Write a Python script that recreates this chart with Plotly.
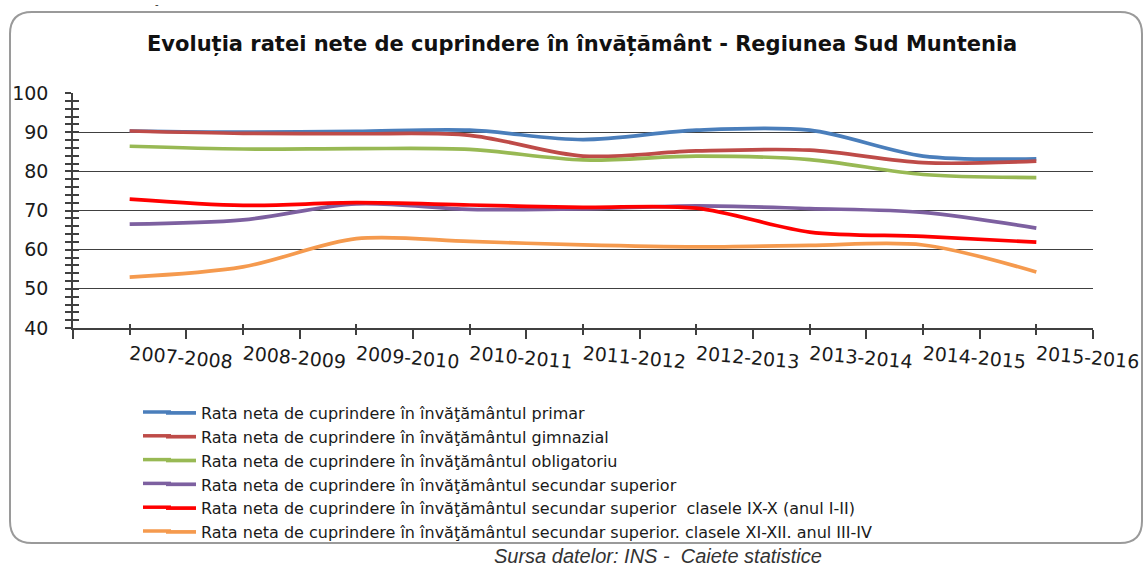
import plotly.graph_objects as go

years = ["2007-2008", "2008-2009", "2009-2010", "2010-2011", "2011-2012",
         "2012-2013", "2013-2014", "2014-2015", "2015-2016"]

primar = [90.3, 90.0, 90.2, 90.5, 88.1, 90.5, 90.5, 83.9, 83.2]
gimnazial = [90.3, 89.7, 89.6, 89.2, 83.9, 85.2, 85.4, 82.2, 82.6]
obligatoriu = [86.4, 85.7, 85.8, 85.6, 82.9, 83.9, 83.0, 79.2, 78.4]
secundar_superior = [66.5, 67.6, 71.7, 70.3, 70.4, 71.2, 70.5, 69.5, 65.5]
clasele_ix_x = [72.9, 71.3, 72.0, 71.4, 70.8, 70.6, 64.5, 63.4, 61.9]
clasele_xi_xii = [53.0, 55.6, 62.8, 62.1, 61.2, 60.7, 61.1, 61.2, 54.3]

series_names = [
    "Rata neta de cuprindere în învăţământul primar",
    "Rata neta de cuprindere în învăţământul gimnazial",
    "Rata neta de cuprindere în învăţământul obligatoriu",
    "Rata neta de cuprindere în învăţământul secundar superior",
    "Rata neta de cuprindere în învăţământul secundar superior  clasele IX-X (anul I-II)",
    "Rata neta de cuprindere în învăţământul secundar superior. clasele XI-XII. anul III-IV",
]
series_values = [primar, gimnazial, obligatoriu, secundar_superior, clasele_ix_x, clasele_xi_xii]
colors = ["#4A7EBB", "#BE4B48", "#98B954", "#7D60A0", "#FF0000", "#F59A4E"]

W, H = 1145, 567
L, R, T, B = 73, 52, 93, 239
PW, PH = W - L - R, H - T - B


def px(x):
    return (x - L) / PW


def py(y):
    return (H - B - y) / PH


xs = list(range(len(years)))

fig = go.Figure()
for name, vals, col in zip(series_names, series_values, colors):
    fig.add_trace(go.Scatter(
        x=xs, y=vals, name=name, mode="lines",
        line=dict(color=col, width=3.7, shape="spline", smoothing=0.9),
        hoverinfo="x+y"))

# invisible trace for overlaid axes (inside ticks)
fig.add_trace(go.Scatter(x=[0], y=[40], xaxis="x2", yaxis="y2", mode="markers",
                         marker=dict(opacity=0), showlegend=False, hoverinfo="skip"))

axis_col = "#404040"
LEG_X, LEG_TOP, LEG_FS = 161, 396, 16
fig.update_layout(
    width=W, height=H,
    margin=dict(l=L, r=R, t=T, b=B, autoexpand=False),
    paper_bgcolor="white", plot_bgcolor="white",
    font=dict(family="DejaVu Sans", color="#1a1a1a"),
    showlegend=True,
    legend=dict(x=px(LEG_X), y=py(LEG_TOP), xanchor="left", yanchor="top",
                font=dict(family="DejaVu Sans", size=LEG_FS, color="#1a1a1a"),
                bgcolor="rgba(0,0,0,0)", tracegroupgap=0, itemwidth=30),
    xaxis=dict(range=[-0.5, 8.5], tickvals=xs, ticktext=years, tickangle=5,
               showgrid=False, zeroline=False, showline=True, linecolor=axis_col, linewidth=1.5,
               ticks="outside", ticklen=5, tickwidth=1.5, tickcolor=axis_col,
               minor=dict(ticks="outside", tick0=0.5, dtick=1, ticklen=9, tickwidth=1.5, tickcolor=axis_col),
               tickfont=dict(family="DejaVu Sans", size=19, color="#1a1a1a"),
               ticklabelstandoff=2, fixedrange=True, automargin=False),
    yaxis=dict(range=[40, 100], tickvals=[40, 50, 60, 70, 80, 90, 100],
               showgrid=True, gridcolor=axis_col, gridwidth=1.2, zeroline=False,
               showline=True, linecolor=axis_col, linewidth=1.5,
               ticks="outside", ticklen=6, tickwidth=1.5, tickcolor=axis_col,
               minor=dict(ticks="outside", tick0=40, dtick=2, ticklen=6, tickwidth=1.5,
                          tickcolor=axis_col, showgrid=False),
               tickfont=dict(family="DejaVu Sans", size=19, color="#1a1a1a"),
               ticklabelstandoff=13, fixedrange=True, automargin=False),
    xaxis2=dict(overlaying="x", range=[-0.5, 8.5], tickvals=xs, ticktext=[""] * len(xs),
                showgrid=False, zeroline=False, showline=False, ticks="inside", ticklen=4,
                tickwidth=1.5, tickcolor=axis_col, side="bottom", fixedrange=True, automargin=False),
    yaxis2=dict(overlaying="y", range=[40, 100], tickvals=[40, 50, 60, 70, 80, 90, 100],
                ticktext=[""] * 7, showgrid=False, zeroline=False, showline=False,
                ticks="inside", ticklen=6, tickwidth=1.5, tickcolor=axis_col,
                minor=dict(ticks="inside", tick0=40, dtick=2, ticklen=6, tickwidth=1.5,
                           tickcolor=axis_col, showgrid=False),
                side="left", fixedrange=True, automargin=False),
)

# rounded outer border
x0, x1, y0, y1, r = 10, 1142, 12, 543, 22
path = (f"M {px(x0 + r)},{py(y0)} L {px(x1 - r)},{py(y0)} "
        f"Q {px(x1)},{py(y0)} {px(x1)},{py(y0 + r)} "
        f"L {px(x1)},{py(y1 - r)} Q {px(x1)},{py(y1)} {px(x1 - r)},{py(y1)} "
        f"L {px(x0 + r)},{py(y1)} Q {px(x0)},{py(y1)} {px(x0)},{py(y1 - r)} "
        f"L {px(x0)},{py(y0 + r)} Q {px(x0)},{py(y0)} {px(x0 + r)},{py(y0)} Z")
fig.add_shape(type="path", path=path, xref="paper", yref="paper",
              line=dict(color="#9a9a9a", width=2), layer="below")

# longer legend line samples (extend plotly's short sample to the left)
row_pitch = 23.8
for i, col in enumerate(colors):
    yrow = 412 + i * row_pitch
    fig.add_shape(type="line", xref="paper", yref="paper",
                  x0=px(143), x1=px(LEG_X + 10), y0=py(yrow), y1=py(yrow),
                  line=dict(color=col, width=3.5))

fig.add_annotation(text="<b>Evoluția ratei nete de cuprindere în învățământ - Regiunea Sud Muntenia</b>",
                   x=px(582), y=py(45), xref="paper", yref="paper", showarrow=False,
                   xanchor="center", yanchor="middle",
                   font=dict(family="DejaVu Sans", size=21, color="#111111"))
fig.add_annotation(text="<i>Sursa datelor: INS -\u00a0 Caiete statistice</i>",
                   x=px(658), y=py(556), xref="paper", yref="paper", showarrow=False,
                   xanchor="center", yanchor="middle",
                   font=dict(family="Liberation Sans", size=20, color="#333333"))
fig.add_annotation(text="-", x=px(157), y=py(5), xref="paper", yref="paper", showarrow=False,
                   xanchor="center", yanchor="middle",
                   font=dict(family="DejaVu Sans", size=10, color="#333333"))

fig.write_html("out.html", config={"displayModeBar": False},
               post_script="document.body.style.margin='0';document.body.style.overflow='hidden';")
